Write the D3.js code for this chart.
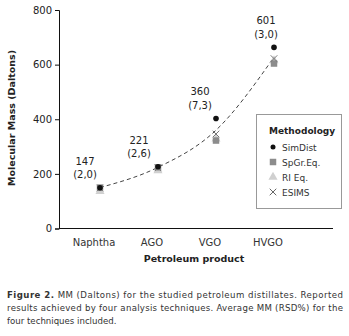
<!DOCTYPE html>
<html><head><meta charset="utf-8">
<script src="https://cdn.jsdelivr.net/npm/d3@7"></script>
<style>body{margin:0;background:#fff}svg{display:block}</style>
</head><body>
<svg id="c" width="349" height="336"></svg>
<script>
const categories = ["Naphtha", "AGO", "VGO", "HVGO"];
const simDist = [149, 226, 403, 663];
const spGr = [150, 224, 322, 604];
const riEq = [136, 212, 328, 615];
const esims = [148, 222, 346, 622];
const trend = [150, 224, 360, 627];
const avgLabels = ["147", "221", "360", "601"];
const rsdLabels = ["(2,0)", "(2,6)", "(7,3)", "(3,0)"];
const yTicks = [0, 200, 400, 600, 800];
const legendNames = ["SimDist", "SpGr.Eq.", "RI Eq.", "ESIMS"];
const labelDx = [-15, -19, -16, -8];

const FONT = "DejaVu Sans, sans-serif";
const svg = d3.select("#c").style("font-family", FONT);
const x = d3.scalePoint().domain(categories).range([100, 274]);
const y = d3.scaleLinear().domain([0, 800]).range([228.5, 10]);

// axes
const ya = svg.append("g").attr("transform", "translate(59,0)")
  .call(d3.axisLeft(y).tickValues(yTicks).tickSize(4).tickPadding(3));
ya.select(".domain").attr("stroke", "#111");
ya.selectAll(".tick line").attr("stroke", "#111");
ya.selectAll("text").attr("font-size", 10).attr("fill", "#222").attr("font-family", FONT);

svg.append("line").attr("x1", 59).attr("x2", 333).attr("y1", y(0)).attr("y2", y(0))
  .attr("stroke", "#111");
svg.append("g").selectAll("text").data(categories).join("text")
  .attr("x", d => x(d) - 6).attr("y", 246).attr("text-anchor", "middle")
  .attr("font-size", 10).attr("fill", "#333").text(d => d);

svg.append("text").attr("transform", "translate(15,118) rotate(-90)")
  .attr("text-anchor", "middle").attr("font-size", 9.5).attr("font-weight", "bold")
  .attr("fill", "#222").text("Molecular Mass (Daltons)");
svg.append("text").attr("x", 194).attr("y", 262).attr("text-anchor", "middle")
  .attr("font-size", 9.5).attr("font-weight", "bold").attr("fill", "#222").text("Petroleum product");

// trend line
svg.append("path").datum(trend)
  .attr("d", d3.line().x((d, i) => x(categories[i])).y(d => y(d)).curve(d3.curveMonotoneX))
  .attr("fill", "none").attr("stroke", "#444").attr("stroke-width", 1).attr("stroke-dasharray", "4,3");

const tri = d3.symbol().type(d3.symbolTriangle).size(36);
const sq = d3.symbol().type(d3.symbolSquare).size(42);
const cross = d3.symbol().type(d3.symbolX).size(30);

svg.append("g").selectAll("path").data(riEq).join("path")
  .attr("transform", (d, i) => `translate(${x(categories[i])},${y(d)})`)
  .attr("d", tri).attr("fill", "#d0d0d0");
svg.append("g").selectAll("path").data(spGr).join("path")
  .attr("transform", (d, i) => `translate(${x(categories[i])},${y(d)})`)
  .attr("d", sq).attr("fill", "#8c8c8c");
svg.append("g").selectAll("path").data(esims).join("path")
  .attr("transform", (d, i) => `translate(${x(categories[i])},${y(d)})`)
  .attr("d", cross).attr("fill", "none").attr("stroke", "#777").attr("stroke-width", 1);
svg.append("g").selectAll("circle").data(simDist).join("circle")
  .attr("cx", (d, i) => x(categories[i])).attr("cy", d => y(d)).attr("r", 2.8).attr("fill", "#111");

// annotations
const ann = svg.append("g").attr("font-size", 10).attr("fill", "#222").attr("text-anchor", "middle");
simDist.forEach((d, i) => {
  const ax = x(categories[i]) + labelDx[i], ay = y(d);
  ann.append("text").attr("x", ax).attr("y", ay - 23).text(avgLabels[i]);
  ann.append("text").attr("x", ax).attr("y", ay - 9.5).text(rsdLabels[i]);
});

// legend
const lg = svg.append("g");
lg.append("rect").attr("x", 256.5).attr("y", 114.5).attr("width", 85).attr("height", 94)
  .attr("fill", "#fff").attr("stroke", "#999");
lg.append("text").attr("x", 269).attr("y", 133.5).attr("font-size", 9).attr("font-weight", "bold")
  .attr("fill", "#222").text("Methodology");
const legSyms = [
  g => g.append("circle").attr("r", 2.5).attr("fill", "#111"),
  g => g.append("path").attr("d", sq).attr("fill", "#8c8c8c"),
  g => g.append("path").attr("d", tri).attr("fill", "#d0d0d0"),
  g => g.append("path").attr("d", cross).attr("fill", "none").attr("stroke", "#666")
];
legendNames.forEach((n, i) => {
  const cy = 147 + i * 15;
  legSyms[i](lg.append("g").attr("transform", `translate(273,${cy})`));
  lg.append("text").attr("x", 282).attr("y", cy + 3.5).attr("font-size", 9).attr("fill", "#333").text(n);
});

// caption
const cap = svg.append("g").attr("font-size", 8.6).attr("fill", "#333");
const l1 = cap.append("text").attr("x", 7).attr("y", 298).attr("textLength", 336).attr("lengthAdjust", "spacing");
l1.append("tspan").attr("font-weight", "bold").text("Figure 2.");
l1.append("tspan").text(" MM (Daltons) for the studied petroleum distillates. Reported");
cap.append("text").attr("x", 7).attr("y", 311).attr("textLength", 336).attr("lengthAdjust", "spacing")
  .text("results achieved by four analysis techniques. Average MM (RSD%) for the");
cap.append("text").attr("x", 7).attr("y", 324).text("four techniques included.");
</script>
</body></html>
